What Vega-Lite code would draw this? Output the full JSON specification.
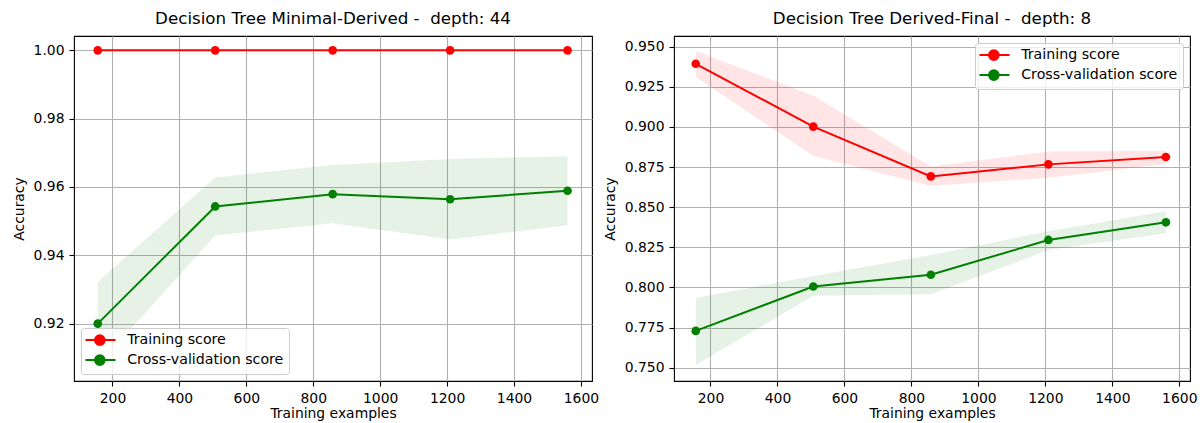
{
  "$schema": "https://vega.github.io/schema/vega-lite/v6.json",
  "background": "white",
  "padding": {"left": 11, "top": 10, "right": 5, "bottom": 0},
  "datasets": {
    "curves": [
      {"panel": "left", "series": "Training score", "size": 156, "mean": 1.0, "lo": 1.0, "hi": 1.0},
      {"panel": "left", "series": "Training score", "size": 507, "mean": 1.0, "lo": 1.0, "hi": 1.0},
      {"panel": "left", "series": "Training score", "size": 858, "mean": 1.0, "lo": 1.0, "hi": 1.0},
      {"panel": "left", "series": "Training score", "size": 1209, "mean": 1.0, "lo": 1.0, "hi": 1.0},
      {"panel": "left", "series": "Training score", "size": 1560, "mean": 1.0, "lo": 1.0, "hi": 1.0},
      {"panel": "left", "series": "Cross-validation score", "size": 156, "mean": 0.9200, "lo": 0.9078, "hi": 0.9322},
      {"panel": "left", "series": "Cross-validation score", "size": 507, "mean": 0.9543, "lo": 0.9458, "hi": 0.9628},
      {"panel": "left", "series": "Cross-validation score", "size": 858, "mean": 0.9579, "lo": 0.9494, "hi": 0.9664},
      {"panel": "left", "series": "Cross-validation score", "size": 1209, "mean": 0.9564, "lo": 0.9446, "hi": 0.9682},
      {"panel": "left", "series": "Cross-validation score", "size": 1560, "mean": 0.9589, "lo": 0.9488, "hi": 0.9690},
      {"panel": "right", "series": "Training score", "size": 156, "mean": 0.9394, "lo": 0.9312, "hi": 0.9473},
      {"panel": "right", "series": "Training score", "size": 507, "mean": 0.9002, "lo": 0.8820, "hi": 0.9194},
      {"panel": "right", "series": "Training score", "size": 858, "mean": 0.8692, "lo": 0.8632, "hi": 0.8754},
      {"panel": "right", "series": "Training score", "size": 1209, "mean": 0.8767, "lo": 0.8684, "hi": 0.8847},
      {"panel": "right", "series": "Training score", "size": 1560, "mean": 0.8813, "lo": 0.8769, "hi": 0.8852},
      {"panel": "right", "series": "Cross-validation score", "size": 156, "mean": 0.7729, "lo": 0.7517, "hi": 0.7935},
      {"panel": "right", "series": "Cross-validation score", "size": 507, "mean": 0.8006, "lo": 0.7948, "hi": 0.8071},
      {"panel": "right", "series": "Cross-validation score", "size": 858, "mean": 0.8079, "lo": 0.7958, "hi": 0.8202},
      {"panel": "right", "series": "Cross-validation score", "size": 1209, "mean": 0.8296, "lo": 0.8233, "hi": 0.8350},
      {"panel": "right", "series": "Cross-validation score", "size": 1560, "mean": 0.8406, "lo": 0.8338, "hi": 0.8475}
    ]
  },
  "config": {
    "font": "DejaVu Sans",
    "view": {"stroke": "black", "strokeWidth": 1.1},
    "axis": {
      "domain": false,
      "grid": true,
      "gridColor": "#b0b0b0",
      "gridWidth": 1.1,
      "tickColor": "black",
      "tickSize": 5,
      "tickWidth": 1.1,
      "labelPadding": 5,
      "labelFontSize": 13.9,
      "labelColor": "black",
      "labelFont": "DejaVu Sans",
      "titleFontSize": 13.9,
      "titleFontWeight": "normal",
      "titleColor": "black",
      "titleFont": "DejaVu Sans"
    },
    "axisY": {"titlePadding": 7},
    "axisX": {"titlePadding": 2, "labelFlush": false},
    "title": {"fontSize": 16.7, "fontWeight": "normal", "color": "black", "font": "DejaVu Sans", "offset": 8},
    "legend": {
      "title": null,
      "offset": 7,
      "fillColor": "rgba(255,255,255,0.8)",
      "strokeColor": "#cccccc",
      "cornerRadius": 3,
      "padding": 5,
      "rowPadding": 2,
      "labelFontSize": 14.2,
      "labelColor": "black",
      "labelFont": "DejaVu Sans",
      "labelOffset": 27,
      "symbolType": "M-1.27,0L3.73,0M0.31,0A0.81,0.81,0,1,0,1.93,0A0.81,0.81,0,1,0,0.31,0Z",
      "symbolSize": 144,
      "symbolStrokeWidth": 2,
      "symbolOpacity": 1
    }
  },
  "resolve": {
    "scale": {"x": "independent", "y": "independent", "color": "independent"},
    "legend": {"color": "independent"}
  },
  "bounds": "flush",
  "spacing": 82,
  "hconcat": [
    {
      "width": 518,
      "height": 345,
      "title": "Decision Tree Minimal-Derived -\u00a0 depth: 44",
      "data": {"name": "curves"},
      "transform": [{"filter": "datum.panel === 'left'"}],
      "encoding": {
        "x": {
          "field": "size", "type": "quantitative",
          "scale": {"domain": [85, 1633], "nice": false, "zero": false},
          "axis": {"title": "Training examples", "values": [200, 400, 600, 800, 1000, 1200, 1400, 1600], "format": "d"}
        },
        "color": {
          "field": "series", "type": "nominal",
          "scale": {"domain": ["Training score", "Cross-validation score"], "range": ["#ff0000", "#008000"]},
          "legend": {
            "orient": "bottom-left",
            "encode": {"symbols": {"update": {
              "fill": {"signal": "datum.value === 'Training score' ? '#ff0000' : '#008000'"},
              "stroke": {"signal": "datum.value === 'Training score' ? '#ff0000' : '#008000'"},
              "opacity": {"value": 1},
              "fillOpacity": {"value": 1},
              "strokeOpacity": {"value": 1}
            }}}
          }
        }
      },
      "layer": [
        {
          "mark": {"type": "area", "opacity": 0.1},
          "encoding": {
            "y": {"field": "lo", "type": "quantitative", "scale": {"domain": [0.9032, 1.0042], "nice": false, "zero": false},
                  "axis": {"title": "Accuracy", "values": [0.92, 0.94, 0.96, 0.98, 1.0], "format": ".2f"}},
            "y2": {"field": "hi"}
          }
        },
        {
          "mark": {"type": "line", "strokeWidth": 2, "point": {"filled": true, "size": 75}},
          "encoding": {
            "y": {"field": "mean", "type": "quantitative"}
          }
        }
      ]
    },
    {
      "width": 516,
      "height": 345,
      "title": "Decision Tree Derived-Final -\u00a0 depth: 8",
      "data": {"name": "curves"},
      "transform": [{"filter": "datum.panel === 'right'"}],
      "encoding": {
        "x": {
          "field": "size", "type": "quantitative",
          "scale": {"domain": [91, 1632], "nice": false, "zero": false},
          "axis": {"title": "Training examples", "values": [200, 400, 600, 800, 1000, 1200, 1400, 1600], "format": "d"}
        },
        "color": {
          "field": "series", "type": "nominal",
          "scale": {"domain": ["Training score", "Cross-validation score"], "range": ["#ff0000", "#008000"]},
          "legend": {
            "orient": "top-right",
            "encode": {"symbols": {"update": {
              "fill": {"signal": "datum.value === 'Training score' ? '#ff0000' : '#008000'"},
              "stroke": {"signal": "datum.value === 'Training score' ? '#ff0000' : '#008000'"},
              "opacity": {"value": 1},
              "fillOpacity": {"value": 1},
              "strokeOpacity": {"value": 1}
            }}}
          }
        }
      },
      "layer": [
        {
          "mark": {"type": "area", "opacity": 0.1},
          "encoding": {
            "y": {"field": "lo", "type": "quantitative", "scale": {"domain": [0.7417, 0.9567], "nice": false, "zero": false},
                  "axis": {"title": "Accuracy", "values": [0.75, 0.775, 0.8, 0.825, 0.85, 0.875, 0.9, 0.925, 0.95], "format": ".3f"}},
            "y2": {"field": "hi"}
          }
        },
        {
          "mark": {"type": "line", "strokeWidth": 2, "point": {"filled": true, "size": 75}},
          "encoding": {
            "y": {"field": "mean", "type": "quantitative"}
          }
        }
      ]
    }
  ]
}
